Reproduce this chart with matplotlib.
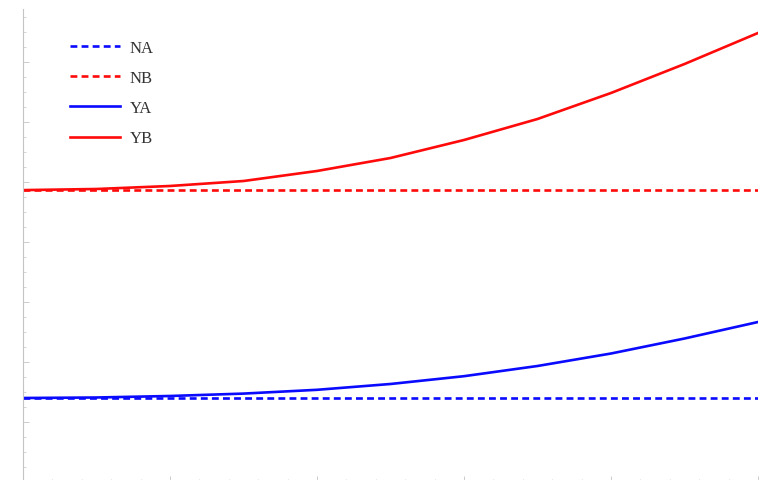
import matplotlib
matplotlib.use("Agg")
import matplotlib.pyplot as plt
from matplotlib.ticker import MultipleLocator, NullFormatter

# data
t = [0.0, 0.1, 0.2, 0.3, 0.4, 0.5, 0.6, 0.7, 0.8, 0.9, 1.0]
NA = [0.28] * len(t)
NB = [0.973] * len(t)
YA = [0.28, 0.2817, 0.2867, 0.2947, 0.3073, 0.3267, 0.3527, 0.3867, 0.4283, 0.4783, 0.5333]
YB = [0.973, 0.9767, 0.9867, 1.0033, 1.0367, 1.08, 1.14, 1.21, 1.2967, 1.3933, 1.4967]
labels = ["NA", "NB", "YA", "YB"]

W, H = 761, 481
fig = plt.figure(figsize=(W / 100, H / 100), dpi=100)
x0, x1 = 23, 758
ytop, yzero = 10, 483
ax = fig.add_axes([x0 / W, (H - yzero) / H, (x1 - x0) / W, (yzero - ytop) / H])
ax.set_xlim(0, 1)
ax.set_ylim(0, (yzero - ytop) / 300)

blue = "#0a0aff"
red = "#ff0a0a"
lw = 1.9
dash = (2.6, 1.6)
ax.plot(t, NA, color=blue, lw=lw, dashes=dash, label=labels[0])
ax.plot(t, NB, color=red, lw=lw, dashes=dash, label=labels[1])
ax.plot(t, YA, color=blue, lw=lw, label=labels[2])
ax.plot(t, YB, color=red, lw=lw, label=labels[3])

for s in ["top", "right", "bottom"]:
    ax.spines[s].set_visible(False)
ax.spines["left"].set_color("#c4c4c4")
ax.spines["left"].set_linewidth(0.8)

ax.xaxis.set_major_locator(MultipleLocator(0.2))
ax.xaxis.set_minor_locator(MultipleLocator(0.04))
ax.yaxis.set_major_locator(MultipleLocator(0.2))
ax.yaxis.set_minor_locator(MultipleLocator(0.05))
ax.xaxis.set_major_formatter(NullFormatter())
ax.yaxis.set_major_formatter(NullFormatter())
ax.tick_params(which="major", direction="in", length=4, width=0.6, color="#c4c4c4")
ax.tick_params(which="minor", direction="in", length=2.5, width=0.5, color="#c4c4c4")

leg = ax.legend(loc="upper left", bbox_to_anchor=(70 / W, 1 - 41 / H),
                bbox_transform=fig.transFigure, frameon=False,
                borderpad=0, borderaxespad=0, handlelength=3.0,
                handletextpad=0.6, labelspacing=0.85,
                prop={"family": "Liberation Serif", "size": 12})
for txt in leg.get_texts():
    txt.set_color("#333333")

fig.savefig("out.png", dpi=100)
